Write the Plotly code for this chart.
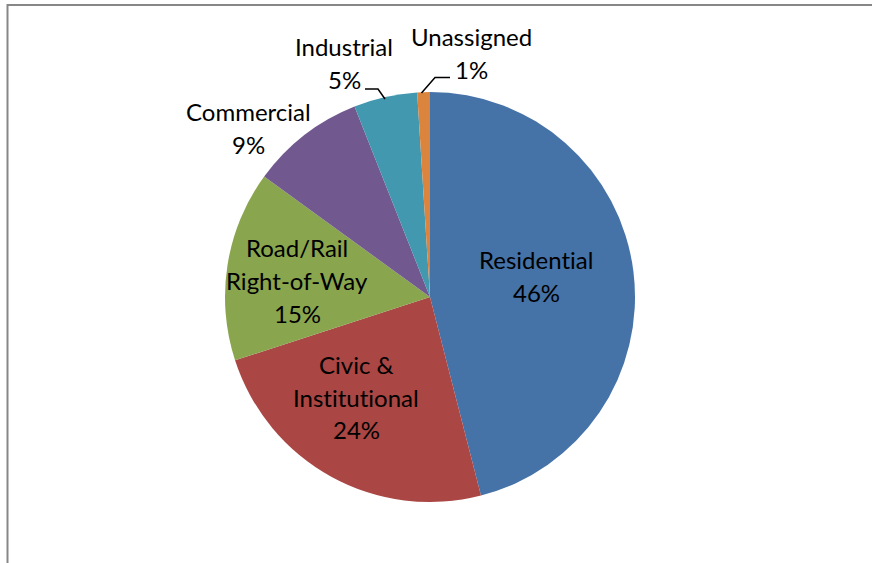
import plotly.graph_objects as go

W, H = 872, 563

categories = ["Residential", "Civic &<br>Institutional", "Road/Rail<br>Right-of-Way",
              "Commercial", "Industrial", "Unassigned"]
values = [46, 24, 15, 9, 5, 1]
colors = ["#4572A7", "#AA4643", "#89A54E", "#71588F", "#4198AF", "#DB843D"]

# label centres (pixels) for each category's text block
label_pos = [(536, 276), (356, 397), (297, 280), (249, 128), (344, 63), (471, 53)]
LINE_GAP = 33

def px(x):
    return x / W

def py(y):
    return 1 - y / H

cx, cy, r = 430, 297, 205

fig = go.Figure(go.Pie(
    labels=[c.replace("<br>", " ") for c in categories],
    values=values,
    marker=dict(colors=colors, line=dict(width=0)),
    sort=False,
    direction="clockwise",
    rotation=0,
    textinfo="none",
    hoverinfo="label+percent",
    domain=dict(x=[px(cx - r), px(cx + r)], y=[py(cy + r), py(cy - r)]),
    showlegend=False,
))

total = sum(values)
annotations = []
for cat, v, (lx, ly) in zip(categories, values, label_pos):
    lines = cat.split("<br>") + [f"{round(100 * v / total)}%"]
    n = len(lines)
    for i, t in enumerate(lines):
        yy = ly + (i - (n - 1) / 2) * LINE_GAP
        annotations.append(dict(
            x=px(lx), y=py(yy), xref="paper", yref="paper",
            text=t.replace("ti", "t\u200ci"), showarrow=False,
            xanchor="center", yanchor="middle",
            font=dict(family="Lato, Carlito, sans-serif", size=24, color="#000000"),
        ))

shapes = [
    # chart area border (left and top)
    dict(type="path", xref="paper", yref="paper",
         path=f"M {px(7.5)} {py(H + 2)} L {px(7.5)} {py(5)} L {px(W + 2)} {py(5)}",
         line=dict(color="#878787", width=2)),
    # leader line: Industrial
    dict(type="path", xref="paper", yref="paper",
         path=f"M {px(365)} {py(89)} L {px(378)} {py(89)} L {px(385)} {py(99)}",
         line=dict(color="#000000", width=1.5)),
    # leader line: Unassigned
    dict(type="path", xref="paper", yref="paper",
         path=f"M {px(421.5)} {py(93)} L {px(435)} {py(77.5)} L {px(450)} {py(77.5)}",
         line=dict(color="#000000", width=1.5)),
]

fig.update_layout(
    width=W, height=H,
    margin=dict(l=0, r=0, t=0, b=0),
    paper_bgcolor="white", plot_bgcolor="white",
    annotations=annotations, shapes=shapes,
)

fig.write_html(
    "out.html",
    config={"displayModeBar": False},
    post_script="document.body.style.margin='0';document.body.style.overflow='hidden';",
)
